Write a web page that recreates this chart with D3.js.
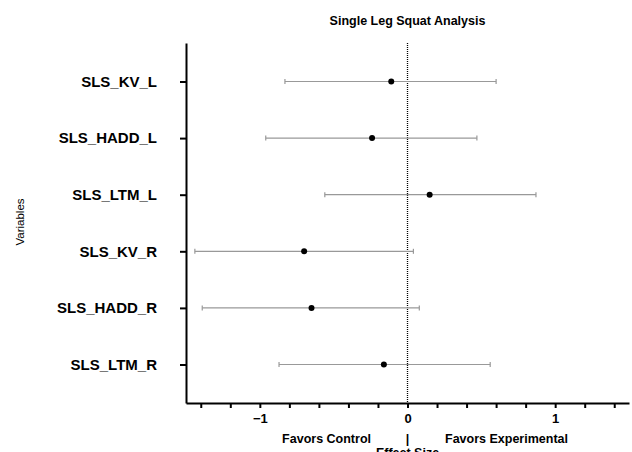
<!DOCTYPE html>
<html><head><meta charset="utf-8">
<script src="https://cdn.jsdelivr.net/npm/d3@7"></script>
<style>body{margin:0;background:#fff}svg{display:block;font-family:"Liberation Sans",Arial,sans-serif}</style>
</head><body>
<script>
const categories = ["SLS_KV_L","SLS_HADD_L","SLS_LTM_L","SLS_KV_R","SLS_HADD_R","SLS_LTM_R"];
const estimates = [-0.11,-0.24,0.15,-0.70,-0.65,-0.16];
const lowers = [-0.83,-0.96,-0.56,-1.44,-1.39,-0.87];
const uppers = [0.60,0.47,0.87,0.04,0.08,0.56];
const xTicks = [-1,0,1];
const data = categories.map((c,i)=>({c, est:estimates[i], lo:lowers[i], hi:uppers[i]}));

const W=632,H=452;
const svg=d3.select("body").append("svg").attr("width",W).attr("height",H);
const x=d3.scaleLinear().domain([-1.5,1.5]).range([186,629]);
const y=d3.scalePoint().domain(categories).range([43,403]).padding(0.68);

// zero line
svg.append("line").attr("x1",x(0)).attr("x2",x(0)).attr("y1",43).attr("y2",403)
  .attr("stroke","#000").attr("stroke-width",1.3).attr("stroke-dasharray","1,1");

// error bars
const g=svg.append("g");
data.forEach(d=>{
  const yy=y(d.c);
  g.append("line").attr("x1",x(d.lo)).attr("x2",x(d.hi)).attr("y1",yy).attr("y2",yy).attr("stroke","#999").attr("stroke-width",1.2);
  [d.lo,d.hi].forEach(v=>g.append("line").attr("x1",x(v)).attr("x2",x(v)).attr("y1",yy-2.5).attr("y2",yy+2.5).attr("stroke","#999").attr("stroke-width",1.2));
  g.append("circle").attr("cx",x(d.est)).attr("cy",yy).attr("r",3).attr("fill","#000");
});

// x axis
const xa=svg.append("g").attr("transform","translate(0,403)")
  .call(d3.axisBottom(x).tickValues(d3.range(-14,15,2).map(v=>v/10)).tickSize(5).tickSizeOuter(0).tickFormat(d=>xTicks.includes(Math.round(d*10)/10)&&Math.abs(d*10-Math.round(d)*10)<1e-6?d3.format("d")(Math.round(d)):""));
xa.select(".domain").attr("stroke-width",2);
xa.selectAll(".tick line").attr("stroke-width",2);
xa.selectAll(".tick text").attr("font-size",13).attr("font-weight","bold").attr("fill","#000").attr("dy","0.95em").attr("font-family","Liberation Sans, Arial, sans-serif");

// y axis
const ya=svg.append("g").attr("transform","translate(186,0)")
  .call(d3.axisLeft(y).tickSize(6).tickSizeOuter(0).tickPadding(23));
ya.select(".domain").attr("stroke-width",2);
ya.selectAll(".tick line").attr("stroke-width",2);
ya.selectAll(".tick text").attr("font-size",15).attr("font-weight","bold").attr("fill","#000").attr("font-family","Liberation Sans, Arial, sans-serif");

// titles
svg.append("text").attr("x",407.5).attr("y",24.5).attr("text-anchor","middle").attr("font-size",12.5).attr("font-weight","bold").text("Single Leg Squat Analysis");
svg.append("text").attr("transform","translate(24,222) rotate(-90)").attr("text-anchor","middle").attr("font-size",11.5).text("Variables");
svg.append("text").attr("x",371).attr("y",443).attr("text-anchor","end").attr("font-size",12.5).attr("font-weight","bold").text("Favors Control");
svg.append("text").attr("x",x(0)).attr("y",443).attr("text-anchor","middle").attr("font-size",12.5).attr("font-weight","bold").text("|");
svg.append("text").attr("x",445).attr("y",443).attr("text-anchor","start").attr("font-size",12.5).attr("font-weight","bold").text("Favors Experimental");
svg.append("text").attr("x",x(0)).attr("y",457).attr("text-anchor","middle").attr("font-size",12.5).attr("font-weight","bold").text("Effect Size");
</script>
</body></html>
